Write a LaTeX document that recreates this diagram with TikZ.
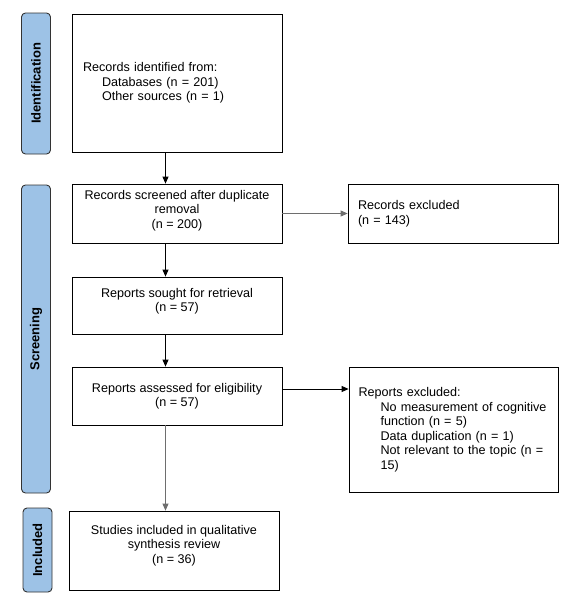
\documentclass[tikz,border=0pt]{standalone}
\usepackage{fontspec}
\setmainfont{Liberation Sans}
\usetikzlibrary{arrows.meta,calc}
\definecolor{phasefill}{RGB}{157,194,230}
\definecolor{arrgray}{RGB}{110,110,110}
\begin{document}
\begin{tikzpicture}[x=1pt,y=-1pt,
  box/.style={draw=black,line width=0.8pt,fill=white,inner sep=0pt,font=\fontsize{12.6}{14.5}\selectfont},
  cbox/.style={box,align=center},
  lbox/.style={box,align=left},
  phase/.style={draw=black!80,line width=0.9pt,fill=phasefill,rounded corners=4pt,rotate=90,
     minimum height=29pt,inner sep=0pt,font=\bfseries\fontsize{13}{15}\selectfont},
  arr/.style={-{Triangle[length=7pt,width=6pt]},line width=0.8pt,draw=black},
  garr/.style={arr,draw=arrgray}]
\useasboundingbox[fill=white] (0,0) rectangle (588,603);
% phase labels
\node[phase,minimum width=141pt] (pid) at (36,83.5) {Identification};
\node[phase,minimum width=308pt] (psc) at (36,339) {Screening};
\node[phase,minimum width=84pt] (pin) at (37.5,550) {Included};
% main boxes
\node[lbox,minimum width=210pt,minimum height=138pt,text width=188pt] (id) at (177,83)
  {Records identified from:\\\hspace*{19pt}Databases (n = 201)\\\hspace*{19pt}Other sources (n = 1)\\[-6pt]};
\node[cbox,minimum width=210pt,minimum height=59pt] (sc) at (177,213.5)
  {Records screened after duplicate\\removal\\(n = 200)\\[-6pt]};
\node[cbox,minimum width=210pt,minimum height=57pt] (rs) at (177,305.5)
  {Reports sought for retrieval\\(n = 57)\\[-3pt]};
\node[cbox,minimum width=210pt,minimum height=58pt] (ra) at (177,396)
  {Reports assessed for eligibility\\(n = 57)};
\node[cbox,minimum width=210pt,minimum height=79pt] (inc) at (174,550.5)
  {Studies included in qualitative\\synthesis review\\(n = 36)\\[-2pt]};
% exclusion boxes
\node[lbox,minimum width=210pt,minimum height=59pt,text width=190pt] (ex1) at (453,213.5)
  {Records excluded\\(n = 143)\\[-6pt]};
\node[lbox,minimum width=209pt,minimum height=125pt,text width=190pt] (ex2) at (453.5,429.5)
  {Reports excluded:\\
   \hspace*{22pt}No measurement of cognitive\\
   \hspace*{22pt}function (n = 5)\\
   \hspace*{22pt}Data duplication (n = 1)\\
   \hspace*{22pt}Not relevant to the topic (n =\\
   \hspace*{22pt}15)\\[22pt]};
% connectors
\coordinate (ax) at (165.5,0);
\coordinate (ay) at (0,389);
\draw[arr] (ax |- id.south) -- (ax |- sc.north);
\draw[arr] (ax |- sc.south) -- (ax |- rs.north);
\draw[arr] (ax |- rs.south) -- (ax |- ra.north);
\draw[garr] (ax |- ra.south) -- (ax |- inc.north);
\draw[garr] (sc.east) -- (ex1.west);
\draw[arr] (ra.east |- ay) -- (ex2.west |- ay);
\end{tikzpicture}
\end{document}
